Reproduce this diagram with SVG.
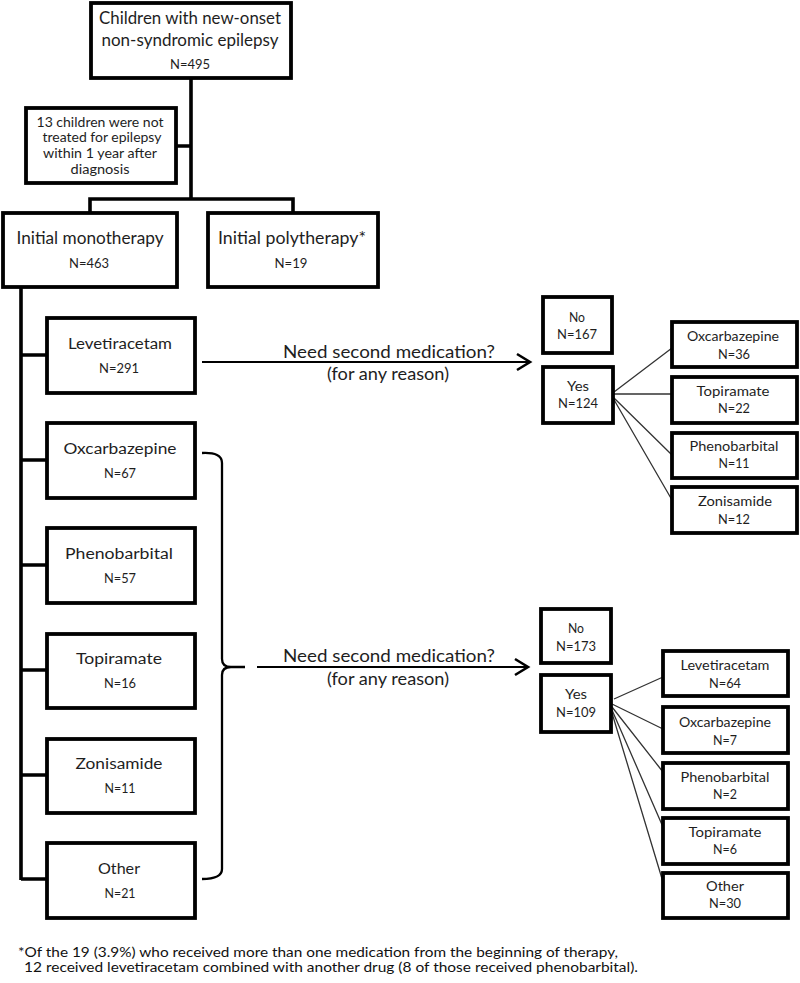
<svg xmlns="http://www.w3.org/2000/svg" width="800" height="983" viewBox="0 0 800 983">
<style>
.box{fill:#fff;stroke:#000;stroke-width:3.8}
.t{font-family:Lato,"Open Sans","Liberation Sans",sans-serif;fill:#1e1e1e;text-anchor:middle;dominant-baseline:central}
.big{font-size:16.5px}
.med{font-size:14.5px}
.sm{font-size:13.5px}
.xs{font-size:13px}
.lbl{font-size:17.5px}
.ft{font-family:Lato,"Open Sans","Liberation Sans",sans-serif;fill:#111;font-size:13.5px;dominant-baseline:central}
.tree{fill:none;stroke:#000;stroke-width:3.6}
.arr{fill:none;stroke:#000;stroke-width:2.2}
.thin{fill:none;stroke:#333;stroke-width:1.3}
.brace{fill:none;stroke:#000;stroke-width:2.3}
</style>
<defs>
<marker id="ah" markerUnits="userSpaceOnUse" markerWidth="18" markerHeight="20" refX="15" refY="10" orient="auto" viewBox="0 0 18 20">
<path d="M2,2 L15,10 L2,18" fill="none" stroke="#000" stroke-width="2.6"/>
</marker>
</defs>
<rect width="800" height="983" fill="#fff"/>

<g id="connectors">
<path class="tree" d="M191,78 V199 M176,146 H191 M90,213 V199 H293 V213"/>
<path class="tree" d="M21,287 V880 M21,355 H47 M21,460 H47 M21,565 H47 M21,670 H47 M21,775 H47 M21,879 H47"/>
<path class="arr" d="M202,362 H530" marker-end="url(#ah)"/>
<path class="brace" d="M202,453 Q222,452 222,463 V659 Q222,667 231,667 H245 M231,667 Q222,667 222,675 V869 Q222,879 202,879"/>
<path class="arr" d="M257,667 H528" marker-end="url(#ah)"/>
<path class="thin" d="M614,392 L672,348 M613,394 L672,394 M613,397 L672,455 M613,398 L672,500"/>
<path class="thin" d="M614,699 L663,677 M612,704 L663,729 M612,707 L663,772 M612,710 L663,827 M612,713 L663,882"/>
</g>

<g id="n_top">
<rect class="box" x="91" y="3" width="200" height="75"/>
<text class="t big" x="190" y="18" textLength="182" lengthAdjust="spacingAndGlyphs">Children with new-onset</text>
<text class="t big" x="190" y="40" textLength="177" lengthAdjust="spacingAndGlyphs">non-syndromic epilepsy</text>
<text class="t sm" x="190" y="64" textLength="40" lengthAdjust="spacingAndGlyphs">N=495</text>
</g>

<g id="n_untreated">
<rect class="box" x="26" y="108" width="150" height="75"/>
<text class="t sm" x="100" y="122" textLength="127" lengthAdjust="spacingAndGlyphs">13 children were not</text>
<text class="t sm" x="102" y="137" textLength="119" lengthAdjust="spacingAndGlyphs">treated for epilepsy</text>
<text class="t sm" x="100" y="153" textLength="114" lengthAdjust="spacingAndGlyphs">within 1 year after</text>
<text class="t sm" x="100" y="169" textLength="59" lengthAdjust="spacingAndGlyphs">diagnosis</text>
</g>

<g id="n_mono">
<rect class="box" x="3" y="213" width="174" height="74"/>
<text class="t big" x="90" y="238" textLength="147" lengthAdjust="spacingAndGlyphs">Initial monotherapy</text>
<text class="t sm" x="89" y="263" textLength="40" lengthAdjust="spacingAndGlyphs">N=463</text>
</g>

<g id="n_poly">
<rect class="box" x="208" y="213" width="170" height="74"/>
<text class="t big" x="292" y="238" textLength="148" lengthAdjust="spacingAndGlyphs">Initial polytherapy*</text>
<text class="t sm" x="291" y="263" textLength="33" lengthAdjust="spacingAndGlyphs">N=19</text>
</g>

<g id="n_lev">
<rect class="box" x="47" y="318" width="148" height="75"/>
<text class="t med" x="120" y="343" textLength="104" lengthAdjust="spacingAndGlyphs">Levetiracetam</text>
<text class="t sm" x="119" y="368" textLength="40" lengthAdjust="spacingAndGlyphs">N=291</text>
</g>

<g id="n_oxc">
<rect class="box" x="47" y="423" width="148" height="75"/>
<text class="t med" x="120" y="448" textLength="113" lengthAdjust="spacingAndGlyphs">Oxcarbazepine</text>
<text class="t sm" x="120" y="473" textLength="32" lengthAdjust="spacingAndGlyphs">N=67</text>
</g>

<g id="n_phb">
<rect class="box" x="47" y="528" width="148" height="75"/>
<text class="t med" x="119" y="553" textLength="108" lengthAdjust="spacingAndGlyphs">Phenobarbital</text>
<text class="t sm" x="120" y="578" textLength="32" lengthAdjust="spacingAndGlyphs">N=57</text>
</g>

<g id="n_top2">
<rect class="box" x="47" y="634" width="148" height="74"/>
<text class="t med" x="119" y="658" textLength="86" lengthAdjust="spacingAndGlyphs">Topiramate</text>
<text class="t sm" x="120" y="683" textLength="32" lengthAdjust="spacingAndGlyphs">N=16</text>
</g>

<g id="n_zon">
<rect class="box" x="47" y="739" width="148" height="74"/>
<text class="t med" x="119" y="763" textLength="87" lengthAdjust="spacingAndGlyphs">Zonisamide</text>
<text class="t sm" x="120" y="788" textLength="31" lengthAdjust="spacingAndGlyphs">N=11</text>
</g>

<g id="n_oth">
<rect class="box" x="47" y="843" width="148" height="75"/>
<text class="t med" x="119" y="868" textLength="42" lengthAdjust="spacingAndGlyphs">Other</text>
<text class="t sm" x="120" y="893" textLength="31" lengthAdjust="spacingAndGlyphs">N=21</text>
</g>

<g id="l_q1">
<text class="t lbl" x="389" y="351" textLength="212" lengthAdjust="spacingAndGlyphs">Need second medication?</text>
<text class="t lbl" x="388" y="373" textLength="122" lengthAdjust="spacingAndGlyphs">(for any reason)</text>
</g>
<g id="l_q2">
<text class="t lbl" x="389" y="655" textLength="212" lengthAdjust="spacingAndGlyphs">Need second medication?</text>
<text class="t lbl" x="388" y="678" textLength="122" lengthAdjust="spacingAndGlyphs">(for any reason)</text>
</g>

<g id="n_no1">
<rect class="box" x="543" y="297" width="69" height="56"/>
<text class="t xs" x="577" y="317" textLength="16" lengthAdjust="spacingAndGlyphs">No</text>
<text class="t xs" x="577" y="334" textLength="40" lengthAdjust="spacingAndGlyphs">N=167</text>
</g>
<g id="n_yes1">
<rect class="box" x="543" y="367" width="70" height="56"/>
<text class="t xs" x="578" y="386" textLength="22" lengthAdjust="spacingAndGlyphs">Yes</text>
<text class="t xs" x="578" y="403" textLength="40" lengthAdjust="spacingAndGlyphs">N=124</text>
</g>

<g id="n_r1oxc">
<rect class="box" x="672" y="322" width="125" height="45"/>
<text class="t xs" x="733" y="336" textLength="92" lengthAdjust="spacingAndGlyphs">Oxcarbazepine</text>
<text class="t xs" x="734" y="354" textLength="32" lengthAdjust="spacingAndGlyphs">N=36</text>
</g>
<g id="n_r1top">
<rect class="box" x="672" y="377" width="125" height="46"/>
<text class="t xs" x="733" y="391" textLength="73" lengthAdjust="spacingAndGlyphs">Topiramate</text>
<text class="t xs" x="734" y="408" textLength="32" lengthAdjust="spacingAndGlyphs">N=22</text>
</g>
<g id="n_r1phb">
<rect class="box" x="672" y="433" width="125" height="45"/>
<text class="t xs" x="734" y="446" textLength="89" lengthAdjust="spacingAndGlyphs">Phenobarbital</text>
<text class="t xs" x="734" y="463" textLength="31" lengthAdjust="spacingAndGlyphs">N=11</text>
</g>
<g id="n_r1zon">
<rect class="box" x="672" y="487" width="125" height="46"/>
<text class="t xs" x="735" y="501" textLength="74" lengthAdjust="spacingAndGlyphs">Zonisamide</text>
<text class="t xs" x="734" y="519" textLength="32" lengthAdjust="spacingAndGlyphs">N=12</text>
</g>

<g id="n_no2">
<rect class="box" x="541" y="609" width="70" height="54"/>
<text class="t xs" x="576" y="628" textLength="16" lengthAdjust="spacingAndGlyphs">No</text>
<text class="t xs" x="576" y="646" textLength="40" lengthAdjust="spacingAndGlyphs">N=173</text>
</g>
<g id="n_yes2">
<rect class="box" x="541" y="675" width="70" height="57"/>
<text class="t xs" x="576" y="694" textLength="22" lengthAdjust="spacingAndGlyphs">Yes</text>
<text class="t xs" x="576" y="712" textLength="40" lengthAdjust="spacingAndGlyphs">N=109</text>
</g>

<g id="n_r2lev">
<rect class="box" x="663" y="651" width="125" height="45"/>
<text class="t xs" x="725" y="665" textLength="89" lengthAdjust="spacingAndGlyphs">Levetiracetam</text>
<text class="t xs" x="725" y="683" textLength="32" lengthAdjust="spacingAndGlyphs">N=64</text>
</g>
<g id="n_r2oxc">
<rect class="box" x="663" y="707" width="125" height="46"/>
<text class="t xs" x="725" y="722" textLength="92" lengthAdjust="spacingAndGlyphs">Oxcarbazepine</text>
<text class="t xs" x="725" y="740" textLength="24" lengthAdjust="spacingAndGlyphs">N=7</text>
</g>
<g id="n_r2phb">
<rect class="box" x="663" y="763" width="125" height="46"/>
<text class="t xs" x="725" y="777" textLength="89" lengthAdjust="spacingAndGlyphs">Phenobarbital</text>
<text class="t xs" x="725" y="794" textLength="24" lengthAdjust="spacingAndGlyphs">N=2</text>
</g>
<g id="n_r2top">
<rect class="box" x="663" y="818" width="125" height="46"/>
<text class="t xs" x="725" y="832" textLength="73" lengthAdjust="spacingAndGlyphs">Topiramate</text>
<text class="t xs" x="725" y="849" textLength="24" lengthAdjust="spacingAndGlyphs">N=6</text>
</g>
<g id="n_r2oth">
<rect class="box" x="663" y="873" width="125" height="45"/>
<text class="t xs" x="725" y="886" textLength="38" lengthAdjust="spacingAndGlyphs">Other</text>
<text class="t xs" x="725" y="903" textLength="32" lengthAdjust="spacingAndGlyphs">N=30</text>
</g>

<g id="footnote">
<text class="ft" x="18" y="952" textLength="600" lengthAdjust="spacingAndGlyphs">*Of the 19 (3.9%) who received more than one medication from the beginning of therapy,</text>
<text class="ft" x="24" y="967" textLength="614" lengthAdjust="spacingAndGlyphs">12 received levetiracetam combined with another drug (8 of those received phenobarbital).</text>
</g>
</svg>
